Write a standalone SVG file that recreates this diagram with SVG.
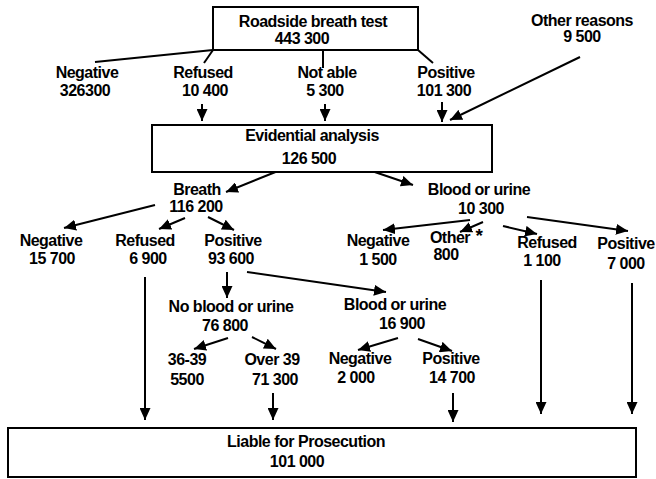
<svg xmlns="http://www.w3.org/2000/svg" width="656" height="479" viewBox="0 0 656 479">
<style>
text{font-family:"Liberation Sans",Arial,sans-serif;font-weight:bold;font-size:16px;letter-spacing:-0.5px;fill:#000;text-anchor:middle}
.box{fill:#fff;stroke:#000;stroke-width:2}
.ln{stroke:#000;stroke-width:2;fill:none}
.ar{stroke:#000;stroke-width:2;fill:none;marker-end:url(#ah)}
</style>
<defs>
<marker id="ah" markerUnits="userSpaceOnUse" markerWidth="12" markerHeight="11" refX="12" refY="5.5" orient="auto">
<path d="M0,0 L12,5.5 L0,11 z" fill="#000"/>
</marker>
</defs>
<rect width="656" height="479" fill="#fff"/>
<g id="connectors">
<line class="ln" x1="213" y1="50" x2="95" y2="62"/>
<line class="ln" x1="213" y1="50" x2="204" y2="63"/>
<line class="ln" x1="323" y1="50" x2="323" y2="68"/>
<line class="ln" x1="418" y1="50" x2="433" y2="63"/>
<line class="ar" x1="202" y1="104" x2="202" y2="121"/>
<line class="ar" x1="325" y1="104" x2="325" y2="121"/>
<line class="ar" x1="442" y1="102" x2="442" y2="122"/>
<line class="ar" x1="580" y1="57" x2="450" y2="120"/>
<line class="ar" x1="278" y1="171" x2="226" y2="192"/>
<line class="ar" x1="357" y1="166" x2="413" y2="185"/>
<line class="ar" x1="155" y1="205" x2="64" y2="228"/>
<line class="ar" x1="185" y1="218" x2="159" y2="229"/>
<line class="ar" x1="208" y1="217" x2="234" y2="230"/>
<line class="ar" x1="470" y1="220" x2="383" y2="230"/>
<line class="ar" x1="483" y1="222" x2="460" y2="232"/>
<line class="ar" x1="503" y1="226" x2="537" y2="234"/>
<line class="ar" x1="527" y1="217" x2="628" y2="231"/>
<line class="ar" x1="227" y1="272" x2="227" y2="298"/>
<line class="ar" x1="247" y1="272" x2="386" y2="292"/>
<line class="ar" x1="228" y1="338" x2="194" y2="349"/>
<line class="ar" x1="252" y1="337" x2="276" y2="349"/>
<line class="ar" x1="398" y1="338" x2="358" y2="350"/>
<line class="ar" x1="418" y1="339" x2="452" y2="351"/>
<line class="ar" x1="145" y1="277" x2="145" y2="420"/>
<line class="ar" x1="273" y1="393" x2="273" y2="420"/>
<line class="ar" x1="453" y1="393" x2="453" y2="422"/>
<line class="ar" x1="541" y1="280" x2="541" y2="414"/>
<line class="ar" x1="632" y1="283" x2="632" y2="414"/>
</g>
<g id="roadside">
<rect class="box" x="213" y="7" width="205" height="43"/>
<text x="313" y="27">Roadside breath test</text>
<text x="302" y="44">443 300</text>
</g>
<g id="other-reasons"><text x="582" y="26">Other reasons</text><text x="582" y="42">9 500</text></g>
<g id="rs-negative"><text x="87" y="78">Negative</text><text x="85" y="96">326300</text></g>
<g id="rs-refused"><text x="203" y="78">Refused</text><text x="205" y="96">10 400</text></g>
<g id="rs-notable"><text x="327" y="78">Not able</text><text x="325" y="96">5 300</text></g>
<g id="rs-positive"><text x="446" y="78">Positive</text><text x="444" y="96">101 300</text></g>
<g id="evidential">
<rect class="box" x="152" y="125" width="340" height="47"/>
<text x="312" y="141">Evidential analysis</text>
<text x="309" y="164">126 500</text>
</g>
<g id="breath"><text x="197" y="195">Breath</text><text x="196" y="212">116 200</text></g>
<g id="blood"><text x="479" y="195">Blood or urine</text><text x="481" y="214">10 300</text></g>
<g id="br-negative"><text x="51" y="246">Negative</text><text x="52" y="264">15 700</text></g>
<g id="br-refused"><text x="145" y="246">Refused</text><text x="148" y="264">6 900</text></g>
<g id="br-positive"><text x="233" y="246">Positive</text><text x="231" y="264">93 600</text></g>
<g id="bu-negative"><text x="378" y="246">Negative</text><text x="378" y="265">1 500</text></g>
<g id="bu-other"><text x="450" y="243">Other</text><text x="479" y="242" style="font-size:19px">*</text><text x="446" y="260">800</text></g>
<g id="bu-refused"><text x="547" y="248">Refused</text><text x="542" y="266">1 100</text></g>
<g id="bu-positive"><text x="626" y="249">Positive</text><text x="626" y="269">7 000</text></g>
<g id="no-blood"><text x="231" y="312">No blood or urine</text><text x="225" y="331">76 800</text></g>
<g id="blood2"><text x="395" y="310">Blood or urine</text><text x="402" y="329">16 900</text></g>
<g id="r3639"><text x="187" y="365">36-39</text><text x="187" y="385">5500</text></g>
<g id="over39"><text x="272" y="365">Over 39</text><text x="275" y="385">71 300</text></g>
<g id="b-negative"><text x="360" y="364">Negative</text><text x="356" y="383">2 000</text></g>
<g id="b-positive"><text x="451" y="364">Positive</text><text x="452" y="383">14 700</text></g>
<g id="liable">
<rect class="box" x="8" y="428" width="628" height="49"/>
<text x="306" y="447">Liable for Prosecution</text>
<text x="297" y="467">101 000</text>
</g>
</svg>
